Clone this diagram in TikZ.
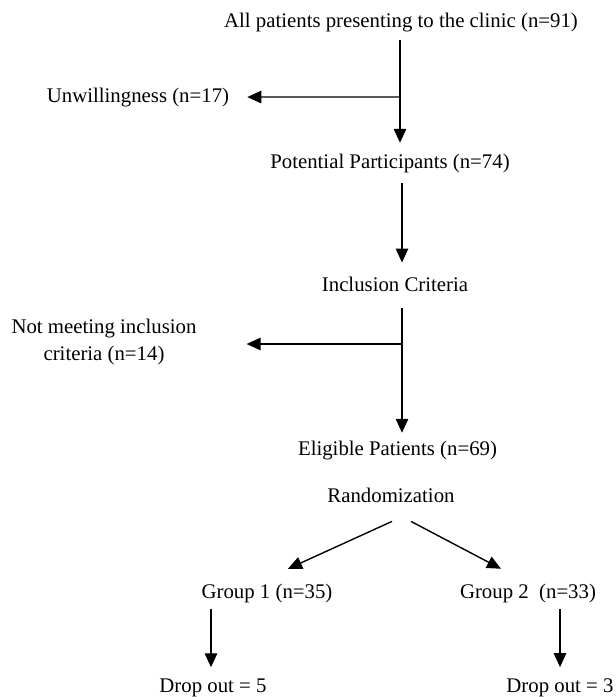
\documentclass[tikz,border=0pt]{standalone}
\usepackage{fontspec}
\setmainfont{Liberation Serif}
\usetikzlibrary{arrows.meta}
\begin{document}
\begin{tikzpicture}[x=1pt,y=-1pt,
  lbl/.style={inner sep=0pt, anchor=base, font=\fontsize{20.8}{27}\selectfont},
  arr/.style={line width=1.4pt, -{Triangle[length=14pt,width=12.5pt]}}]
\useasboundingbox (0,0) rectangle (616,697);
\node[lbl] (all) at (401,27) {All patients presenting to the clinic (n=91)};
\node[lbl] (unw) at (138,102) {Unwillingness (n=17)};
\node[lbl] (pot) at (390,168) {Potential Participants (n=74)};
\node[lbl] (inc) at (395,291) {Inclusion Criteria};
\node[lbl, anchor=center, align=center] (not) at (104,341.5) {Not meeting inclusion\\criteria (n=14)};
\node[lbl] (eli) at (397.5,455) {Eligible Patients (n=69)};
\node[lbl] (ran) at (391,502) {Randomization};
\node[lbl] (g1) at (267,598) {Group 1 (n=35)};
\node[lbl] (g2) at (528,598) {Group 2\ \ (n=33)};
\node[lbl] (d1) at (213,692) {Drop out = 5};
\node[lbl] (d2) at (560,692) {Drop out = 3};
\coordinate (j1) at (400,97);
\coordinate (j2) at (402,344);
\draw[arr] ([shift={(-1,8.5)}]all.south) -- ([shift={(10,-10.6)}]pot.north);
\draw[arr] (j1) -- ([shift={(18,0)}]unw.east);
\draw[arr] ([shift={(12,10.5)}]pot.south) -- ([shift={(7,-13.8)}]inc.north);
\draw[arr] ([shift={(7,17)}]inc.south) -- ([shift={(4.5,-7.6)}]eli.north);
\draw[arr] (j2) -- ([shift={(50,2.5)}]not.east);
\draw[arr] ([shift={(1,19)}]ran.south) -- ([shift={(21,-14.6)}]g1.north);
\draw[arr] ([shift={(20,19)}]ran.south) -- ([shift={(-27,-14.6)}]g2.north);
\draw[arr] ([shift={(-56,6.5)}]g1.south) -- ([shift={(-2,-10.9)}]d1.north);
\draw[arr] ([shift={(32,6.5)}]g2.south) -- ([shift={(0,-10.9)}]d2.north);
\end{tikzpicture}
\end{document}
